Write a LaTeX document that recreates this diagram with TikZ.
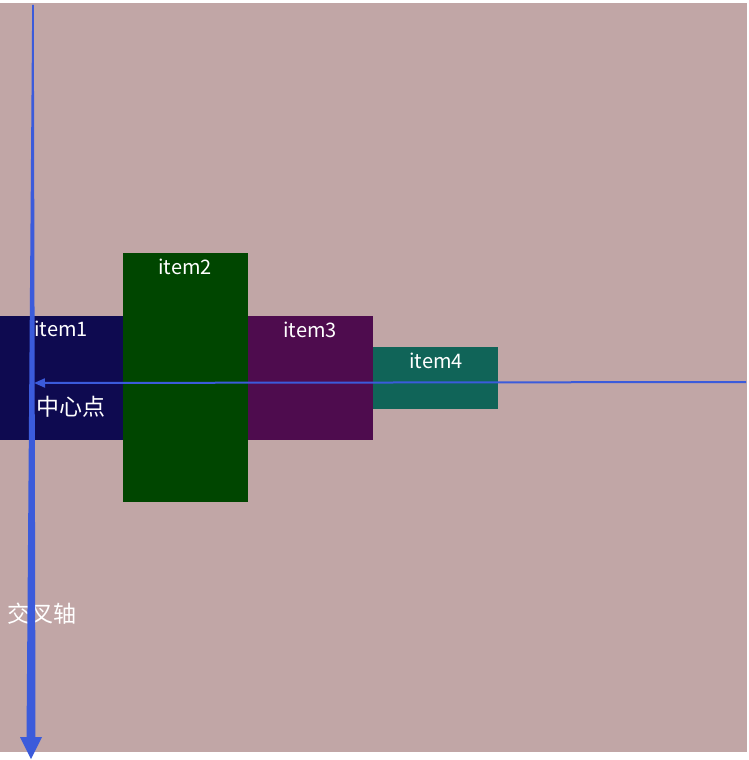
\documentclass[tikz,border=0pt]{standalone}
\usepackage{fontspec}
\setmainfont{Noto Sans CJK SC}
\usetikzlibrary{arrows.meta}
\definecolor{bg}{RGB}{193,166,166}
\definecolor{c1}{RGB}{14,10,80}
\definecolor{c2}{RGB}{0,70,0}
\definecolor{c3}{RGB}{78,12,78}
\definecolor{c4}{RGB}{16,100,88}
\definecolor{ax}{RGB}{59,91,219}
\tikzset{
  lbl/.style={text=white,font=\fontsize{20}{20}\selectfont,inner sep=0pt,anchor=center},
  cjk/.style={lbl,font=\fontsize{23}{23}\selectfont},
}
\begin{document}
\begin{tikzpicture}[x=1pt,y=-1pt]
\useasboundingbox (0,0) rectangle (749,760);
\fill[white] (0,0) rectangle (749,760);
\fill[bg] (0,3) rectangle (747,752);
% boxes
\fill[c1] (0,316) rectangle (123,440);
\fill[c2] (123,253) rectangle (248,502);
\fill[c3] (248,316) rectangle (373,440);
\fill[c4] (373,347) rectangle (498,409);
\node[lbl] (t1) at (61,329) {item1};
\node[lbl] (t2) at (185,267) {item2};
\node[lbl] (t3) at (310,330) {item3};
\node[lbl] (t4) at (436,361) {item4};
\node[cjk] (center) at (71,407) {中心点};
\node[cjk] (cross) at (42,614) {交叉轴};
% cross axis (tapered)
\coordinate (vtl) at (32.2,5);
\coordinate (vtr) at (33.8,5);
\coordinate (vbl) at (26.5,738);
\coordinate (vbr) at (35.5,738);
\coordinate (hl) at (20,737);
\coordinate (hr) at (42,737);
\coordinate (vtip) at (31,759);
\fill[ax] (vtl) -- (vtr) -- (vbr) -- (vbl) -- cycle;
\fill[ax] (hl) -- (hr) -- (vtip) -- cycle;
% main axis
\coordinate (hstart) at (746,382);
\coordinate (hend) at (34,383);
\draw[ax,line width=2pt,-{Triangle[length=11pt,width=9pt]}] (hstart) -- (hend);
\end{tikzpicture}
\end{document}
